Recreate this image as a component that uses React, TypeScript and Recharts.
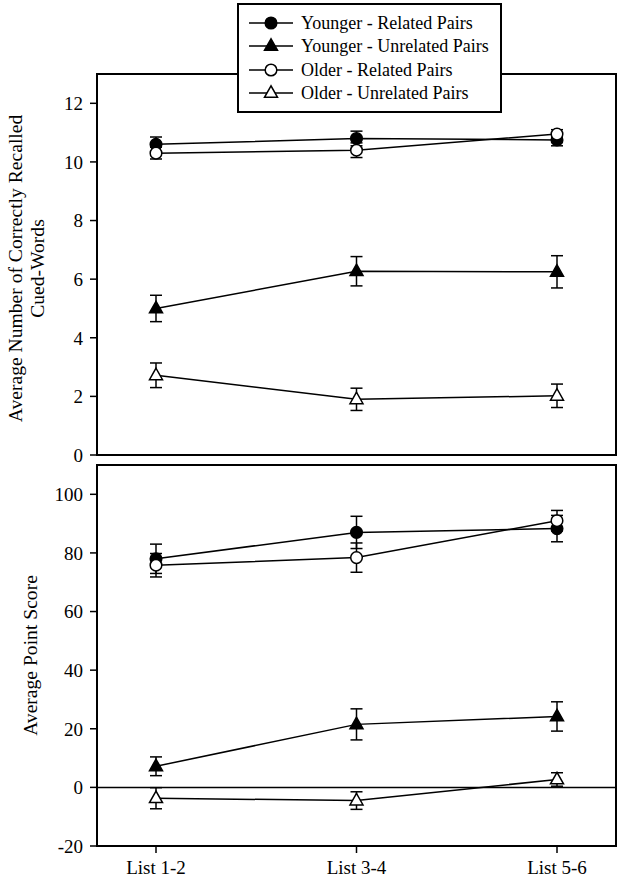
import React from 'react';
import * as R from 'recharts';
import { LineChart, Line, XAxis, YAxis, ErrorBar, ReferenceLine, Legend } from 'recharts';

const categories = ['List 1-2', 'List 3-4', 'List 5-6'];

const seriesNames = ['Younger - Related Pairs', 'Younger - Unrelated Pairs', 'Older - Related Pairs', 'Older - Unrelated Pairs'];

// Top panel: average number of correctly recalled cued-words
const recallYoungerRelated = [10.6, 10.8, 10.75];
const recallYoungerRelatedErr = [0.25, 0.25, 0.2];
const recallYoungerUnrelated = [5.0, 6.27, 6.25];
const recallYoungerUnrelatedErr = [0.45, 0.5, 0.55];
const recallOlderRelated = [10.3, 10.4, 10.95];
const recallOlderRelatedErr = [0.2, 0.25, 0.15];
const recallOlderUnrelated = [2.72, 1.9, 2.02];
const recallOlderUnrelatedErr = [0.42, 0.38, 0.4];

// Bottom panel: average point score
const scoreYoungerRelated = [78, 87, 88.3];
const scoreYoungerRelatedErr = [5, 5.5, 4.5];
const scoreYoungerUnrelated = [7.2, 21.5, 24.2];
const scoreYoungerUnrelatedErr = [3.2, 5.3, 5];
const scoreOlderRelated = [75.8, 78.4, 91];
const scoreOlderRelatedErr = [4, 5, 3.5];
const scoreOlderUnrelated = [-3.7, -4.5, 2.7];
const scoreOlderUnrelatedErr = [3.6, 3, 2.3];

const recallTicks = [0, 2, 4, 6, 8, 10, 12];
const scoreTicks = [-20, 0, 20, 40, 60, 80, 100];

const recallData = categories.map((c, i) => ({
  cat: c,
  yr: recallYoungerRelated[i], yrE: recallYoungerRelatedErr[i],
  yu: recallYoungerUnrelated[i], yuE: recallYoungerUnrelatedErr[i],
  or: recallOlderRelated[i], orE: recallOlderRelatedErr[i],
  ou: recallOlderUnrelated[i], ouE: recallOlderUnrelatedErr[i],
}));

const scoreData = categories.map((c, i) => ({
  cat: c,
  yr: scoreYoungerRelated[i], yrE: scoreYoungerRelatedErr[i],
  yu: scoreYoungerUnrelated[i], yuE: scoreYoungerUnrelatedErr[i],
  or: scoreOlderRelated[i], orE: scoreOlderRelatedErr[i],
  ou: scoreOlderUnrelated[i], ouE: scoreOlderUnrelatedErr[i],
}));

const FONT = '"Liberation Serif", "Times New Roman", serif';

type Shape = 'circle' | 'triangle';
const seriesDefs: { key: string; shape: Shape; filled: boolean }[] = [
  { key: 'yr', shape: 'circle', filled: true },
  { key: 'yu', shape: 'triangle', filled: true },
  { key: 'or', shape: 'circle', filled: false },
  { key: 'ou', shape: 'triangle', filled: false },
];

const Marker = ({ cx, cy, shape, filled }: { cx: number; cy: number; shape: Shape; filled: boolean }) => {
  const fill = filled ? '#000' : '#fff';
  if (shape === 'circle') {
    return <circle cx={cx} cy={cy} r={5.8} fill={fill} stroke="#000" strokeWidth={1.5} />;
  }
  const h = 11.5;
  const w = 13;
  const pts = `${cx},${cy - h * 0.62} ${cx - w / 2},${cy + h * 0.38} ${cx + w / 2},${cy + h * 0.38}`;
  return <polygon points={pts} fill={fill} stroke="#000" strokeWidth={1.5} strokeLinejoin="miter" />;
};

const makeDot = (shape: Shape, filled: boolean) => (props: any) => {
  const { cx, cy, index } = props;
  if (cx == null || cy == null) return <g key={`d${index}`} />;
  return (
    <g key={`d${index}`}>
      <Marker cx={cx} cy={cy} shape={shape} filled={filled} />
    </g>
  );
};

const renderLegend = () => (
  <div
    style={{
      width: 265,
      height: 110,
      border: '2px solid #000',
      background: '#fff',
      boxSizing: 'border-box',
      paddingTop: 6,
      paddingLeft: 8,
      fontFamily: FONT,
      fontSize: 18,
      color: '#000',
    }}
  >
    {seriesDefs.map((s, i) => (
      <div key={s.key} style={{ display: 'flex', alignItems: 'center', height: 23.5 }}>
        <svg width={48} height={20} style={{ display: 'block' }}>
          <line x1={2} y1={10} x2={46} y2={10} stroke="#000" strokeWidth={1.5} />
          <Marker cx={24} cy={10} shape={s.shape} filled={s.filled} />
        </svg>
        <span style={{ marginLeft: 6, lineHeight: '20px', whiteSpace: 'nowrap' }}>{seriesNames[i]}</span>
      </div>
    ))}
  </div>
);

const tickStyle = { fill: '#000', fontSize: 19, fontFamily: FONT };

const makeYLabel = (lines: string[], xs: number[], shift: number) => (props: any) => {
  const vb = props.viewBox || {};
  const cy = (vb.y ?? 0) + (vb.height ?? 0) / 2 + shift;
  return (
    <g>
      {lines.map((ln, i) => (
        <text
          key={i}
          x={xs[i]}
          y={cy}
          transform={`rotate(-90 ${xs[i]} ${cy})`}
          textAnchor="middle"
          dominantBaseline="central"
          fill="#000"
          fontSize={19.6}
          fontFamily={FONT}
        >
          {ln}
        </text>
      ))}
    </g>
  );
};

const usePlotAreaHook: any = (R as any).usePlotArea;
const HAS_PLOT_AREA = typeof usePlotAreaHook === 'function';

// Draws the closed frame of the plotting area (top and right edges).
const PlotFrame = () => {
  const pa = usePlotAreaHook();
  if (!pa) return null;
  return (
    <rect x={pa.x} y={pa.y} width={pa.width} height={pa.height} fill="none" stroke="#000" strokeWidth={2} />
  );
};

const renderLines = () =>
  seriesDefs.map((s) => (
    <Line
      key={s.key}
      xAxisId="b"
      yAxisId="l"
      dataKey={s.key}
      stroke="#000"
      strokeWidth={1.5}
      isAnimationActive={false}
      dot={makeDot(s.shape, s.filled)}
      activeDot={false}
      legendType="none"
    >
      <ErrorBar dataKey={`${s.key}E`} width={6} stroke="#000" strokeWidth={1.5} direction="y" />
    </Line>
  ));

const frameFallback = (max: number) => [
  <ReferenceLine key="ft" xAxisId="b" yAxisId="l" y={max} stroke="#000" strokeWidth={2} />,
];

export default function App() {
  const W = 644;
  const axisStroke = { stroke: '#000', strokeWidth: 2 };
  return (
    <div style={{ position: 'absolute', left: 0, top: 0, width: W, height: 885, background: '#fff' }}>
      <div style={{ position: 'absolute', left: 0, top: 455, width: W, height: 430 }}>
        <LineChart width={W} height={430} data={scoreData} margin={{ top: 10, right: 28, bottom: 0, left: 0 }}>
          <XAxis
            xAxisId="b"
            dataKey="cat"
            padding={{ left: 59, right: 59 }}
            height={39}
            axisLine={axisStroke}
            tickLine={{ stroke: '#000', strokeWidth: 1.5 }}
            tickSize={7}
            tickMargin={8}
            tick={tickStyle}
          />
          <YAxis
            yAxisId="l"
            domain={[-20, 110]}
            ticks={scoreTicks}
            width={97}
            axisLine={axisStroke}
            tickLine={{ stroke: '#000', strokeWidth: 1.5 }}
            tickSize={7}
            tickMargin={7}
            tick={tickStyle}
            interval={0}
            label={{ content: makeYLabel(['Average Point Score'], [30], 0) }}
          />
          {HAS_PLOT_AREA ? <PlotFrame /> : frameFallback(110)}
          <ReferenceLine xAxisId="b" yAxisId="l" y={0} stroke="#000" strokeWidth={1.5} />
          {renderLines()}
        </LineChart>
      </div>
      <div style={{ position: 'absolute', left: 0, top: 0, width: W, height: 470 }}>
        <LineChart width={W} height={470} data={recallData} margin={{ top: 74, right: 28, bottom: 15, left: 0 }}>
          <XAxis xAxisId="b" dataKey="cat" padding={{ left: 59, right: 59 }} height={0} tick={false} tickLine={false} axisLine={axisStroke} />
          <YAxis
            yAxisId="l"
            domain={[0, 13]}
            ticks={recallTicks}
            width={97}
            axisLine={axisStroke}
            tickLine={{ stroke: '#000', strokeWidth: 1.5 }}
            tickSize={7}
            tickMargin={7}
            tick={tickStyle}
            interval={0}
            label={{ content: makeYLabel(['Average Number of Correctly Recalled', 'Cued-Words'], [15, 37], 4) }}
          />
          {HAS_PLOT_AREA ? <PlotFrame /> : frameFallback(13)}
          {renderLines()}
          <Legend
            layout="horizontal"
            verticalAlign="middle"
            align="center"
            content={renderLegend}
            wrapperStyle={{ position: 'absolute', left: 237, top: 3, width: 265, height: 110 }}
          />
        </LineChart>
      </div>
    </div>
  );
}
